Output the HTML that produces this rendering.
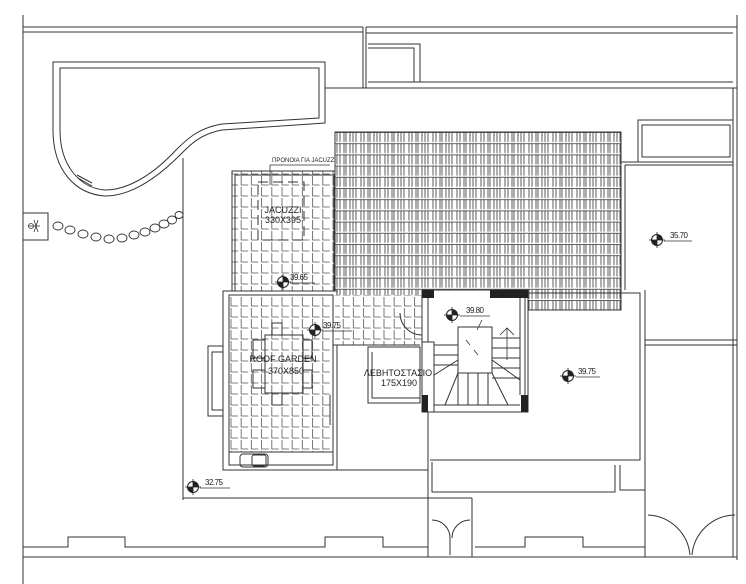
<!DOCTYPE html>
<html><head><meta charset="utf-8"><style>
html,body{margin:0;padding:0;background:#fff;width:746px;height:584px;overflow:hidden}
svg{display:block}
text{font-family:"Liberation Sans",sans-serif;fill:#222}
</style></head><body>
<svg width="746" height="584" viewBox="0 0 746 584" xmlns="http://www.w3.org/2000/svg">
<defs>
<pattern id="roof" x="335" y="132" width="24" height="11.2" patternUnits="userSpaceOnUse">
<rect width="24" height="11.2" fill="#fff"/>
<path d="M0 0.5H24M2 0V10M5 0V10M9 0V10M11 0V10M15 0V10M18 0V10M21 0V10" stroke="#333" stroke-width="0.8" fill="none"/>
</pattern>
<pattern id="pave" x="230" y="175" width="10.2" height="11" patternUnits="userSpaceOnUse">
<rect width="10.2" height="11" fill="#fff"/>
<path d="M1 1V10H8" stroke="#555" stroke-width="0.8" fill="none"/>
</pattern>
<g id="mk"><circle r="5.5" fill="#fff" stroke="#222" stroke-width="1"/><path d="M0 0V-5.5A5.5 5.5 0 0 1 5.5 0Z M0 0V5.5A5.5 5.5 0 0 1 -5.5 0Z" fill="#222"/><path d="M-8 0H8M0 -8V8" stroke="#222" stroke-width="0.8"/></g>
</defs>
<g stroke="#333" stroke-width="1" fill="none">
<path d="M23 15V584M737 15V560M733 88V557"/>
<path d="M23 27H363M23 32H363V88M363 27V88"/>
<path d="M366 27H737M366 33H733M366 27V88M368 44H420V82M368 48H414V82M368 82H733M325 88H737"/>
<rect x="638" y="120" width="95" height="42"/><rect x="642" y="125" width="88" height="32"/>
<path d="M621 162H733M625 165H733M625 165V290"/>
<path d="M645 290V340H737M645 345H737"/>
<path d="M53 62H325V123L222 130C200 134 190 145 180 155C150 185 125 196 105 196C75 194 53 170 53 130Z"/>
<path d="M60 68H319V118L222 124C198 128 186 140 176 150C150 178 125 190 105 190C80 188 60 166 60 130Z"/>
<path d="M77 175L92 183M78 178L92 186"/>
<path d="M183 158V498H428M183 498V500"/>
<rect x="23" y="213" width="25" height="27"/>
<g stroke-width="0.8"><circle cx="31" cy="226" r="2.5"/><path d="M28 226H40M34 220L38 232M38 220L34 232"/></g>
<g stroke-width="0.9">
<ellipse cx="58" cy="226" rx="5" ry="4"/><ellipse cx="70" cy="230" rx="5" ry="4"/><ellipse cx="83" cy="234" rx="5" ry="4"/><ellipse cx="96" cy="237" rx="5" ry="4"/><ellipse cx="109" cy="239" rx="5" ry="4"/><ellipse cx="122" cy="238" rx="5" ry="4"/><ellipse cx="134" cy="235" rx="5" ry="4"/><ellipse cx="145" cy="232" rx="5" ry="4"/><ellipse cx="155" cy="228" rx="5" ry="4"/><ellipse cx="164" cy="224" rx="5" ry="4"/><ellipse cx="172" cy="220" rx="4.5" ry="4"/><ellipse cx="179" cy="215" rx="4" ry="3.5"/>
</g>
</g>
<rect x="335" y="132" width="286" height="178" fill="url(#roof)" stroke="#333"/>
<g stroke="#333" fill="none">
<rect x="232" y="171" width="103" height="124" fill="url(#pave)"/>
<rect x="235" y="175" width="99" height="120"/>
<rect x="223" y="291" width="114" height="179" fill="#fff"/>
<rect x="229" y="295" width="104" height="157" fill="url(#pave)"/>
<path d="M229 295V465H333V295"/>
<rect x="335" y="295" width="87" height="50" fill="url(#pave)" stroke="none"/>
<path d="M333 345H420M337 345V470H428"/>
<rect x="368" y="347" width="52" height="56"/><path d="M372 352V398H420"/>
<rect x="208" y="346" width="15" height="70"/><rect x="212" y="352" width="11" height="58"/>
<path d="M330 395V425"/>
<rect x="240" y="454" width="28" height="13" rx="3"/><rect x="252" y="455" width="14" height="11" rx="2"/>
<rect x="258" y="182" width="46" height="58" stroke-dasharray="10 5"/>
<path d="M270 165H330M270 165V185" stroke-width="0.8"/>
<rect x="265" y="335" width="38" height="58"/>
<rect x="272" y="323" width="10" height="12"/><rect x="272" y="393" width="10" height="12"/>
<rect x="253" y="340" width="12" height="18"/><rect x="253" y="370" width="12" height="18"/>
<rect x="303" y="340" width="9" height="18"/><rect x="303" y="370" width="9" height="18"/>
<rect x="422" y="290" width="106" height="122" fill="#fff"/>
<path d="M428 298V342M520 298V395M525 298V395"/>
<path d="M428 342H434V412M422 342H428"/>
<path d="M400 313A22 22 0 0 0 422 335"/>
<rect x="458" y="327" width="34" height="46"/>
<path d="M492 338H520M492 348H520M492 358H520M492 368H520M492 378H520M434 345H458M434 355H458M434 365H458M458 373V405M468 373V405M478 373V405M488 373V405M434 375L458 360M492 360L520 380M445 405L458 373M492 373L508 405M434 405H520"/>
<path d="M500 335L507 328L514 335M507 328V360M466 340L470 345M474 350L478 355M482 320L477 330" stroke-width="0.8"/>
</g>
<g fill="#222"><rect x="422" y="290" width="12" height="8"/><rect x="490" y="290" width="38" height="8"/><rect x="422" y="395" width="6" height="17"/><rect x="521" y="395" width="7" height="17"/></g>
<g stroke="#333" fill="none">
<path d="M528 293H640V460H430M645 293V557M428 412V557"/>
<path d="M432 462V492H615V465M620 465V490H645"/>
<path d="M428 465V498M472 498V557M428 498H472M432 520A18 18 0 0 1 450 538V555M470 520A18 18 0 0 0 452 538"/>
<path d="M648 515A44 44 0 0 1 690 555M735 515A44 44 0 0 0 692 555"/>
<path d="M23 557H737M23 547H68V537H125V547H325V537H383V547H428M475 547H525V537H583V547H645"/>
</g>
<use href="#mk" x="283" y="282"/><use href="#mk" x="315" y="330"/><use href="#mk" x="452" y="315"/><use href="#mk" x="568" y="376"/><use href="#mk" x="657" y="240"/><use href="#mk" x="193" y="487"/>
<g stroke="#333" stroke-width="0.8"><path d="M290 283H315M323 331H352M460 316H490M576 377H600M664 241H692M200 488H230"/></g>
<g font-size="8">
<text x="290" y="280" textLength="18">39.65</text><text x="323" y="328" textLength="18">39.75</text><text x="466" y="313" textLength="18">39.80</text><text x="578" y="374" textLength="18">39.75</text><text x="670" y="238" textLength="18">35.70</text><text x="205" y="485" textLength="18">32.75</text>
</g>
<text x="272" y="162" font-size="6">ΠΡΟΝΟΙΑ ΓΙΑ JACUZZI</text>
<g font-size="9" text-anchor="middle">
<text x="283" y="213">JACUZZI</text><text x="283" y="223">330X395</text>
<text x="283" y="362">ROOF GARDEN</text><text x="286" y="374">370X850</text>
<text x="398" y="376">ΛΕΒΗΤΟΣΤΑΣΙΟ</text><text x="399" y="386">175X190</text>
</g>
</svg>
</body></html>
